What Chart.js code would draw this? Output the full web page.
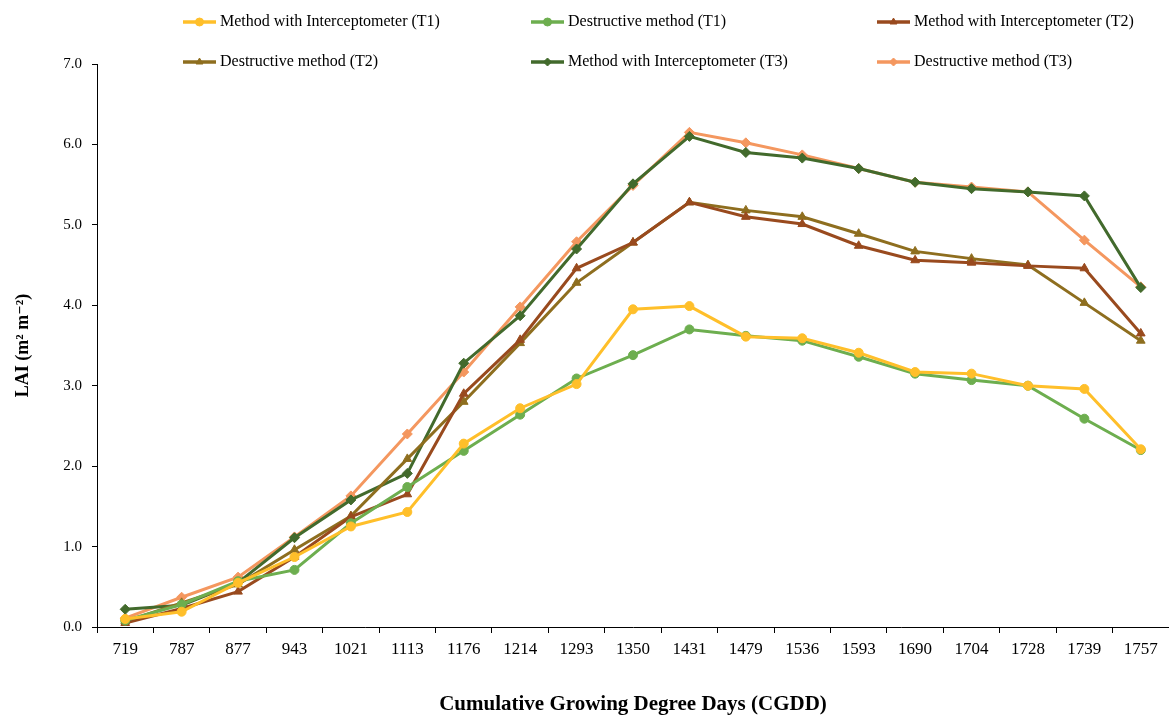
<!DOCTYPE html>
<html>
<head>
<meta charset="utf-8">
<script src="https://cdn.jsdelivr.net/npm/chart.js@4.4.0/dist/chart.umd.min.js"></script>
<style>
  html, body { margin: 0; padding: 0; background: #fff; }
  #wrap { width: 1169px; height: 716px; }
</style>
</head>
<body>
<div id="wrap"><canvas id="laiChart" width="1169" height="716"></canvas></div>
<script>
// --- data ---
const cgdd = ["719", "787", "877", "943", "1021", "1113", "1176", "1214", "1293", "1350",
              "1431", "1479", "1536", "1593", "1690", "1704", "1728", "1739", "1757"];

const interT1 = [0.10, 0.19, 0.55, 0.87, 1.25, 1.43, 2.28, 2.72, 3.02, 3.95, 3.99, 3.61, 3.59, 3.41, 3.17, 3.15, 3.00, 2.96, 2.21];
const destT1  = [0.08, 0.28, 0.57, 0.71, 1.29, 1.74, 2.19, 2.64, 3.09, 3.38, 3.70, 3.62, 3.56, 3.36, 3.15, 3.07, 3.00, 2.59, 2.20];
const interT2 = [0.05, 0.23, 0.44, 0.87, 1.37, 1.65, 2.90, 3.57, 4.46, 4.78, 5.28, 5.10, 5.01, 4.74, 4.56, 4.53, 4.49, 4.46, 3.65];
const destT2  = [0.07, 0.30, 0.53, 0.96, 1.38, 2.09, 2.80, 3.53, 4.28, 4.78, 5.28, 5.18, 5.10, 4.89, 4.67, 4.58, 4.50, 4.03, 3.56];
const interT3 = [0.22, 0.27, 0.55, 1.11, 1.58, 1.91, 3.28, 3.87, 4.70, 5.51, 6.10, 5.90, 5.83, 5.70, 5.53, 5.45, 5.41, 5.36, 4.22];
const destT3  = [0.11, 0.37, 0.62, 1.12, 1.63, 2.40, 3.17, 3.98, 4.79, 5.49, 6.15, 6.02, 5.87, 5.70, 5.53, 5.47, 5.41, 4.81, 4.23];

const yTicks = [0, 1, 2, 3, 4, 5, 6, 7];

const seriesNames = [
  "Method with Interceptometer (T1)", "Destructive method (T1)", "Method with Interceptometer (T2)",
  "Destructive method (T2)", "Method with Interceptometer (T3)", "Destructive method (T3)"
];
const seriesColors = ["#FFBF2A", "#6DAE4F", "#994A1E", "#8E6E1F", "#426A2C", "#F4975F"];
const seriesMarkers = ["circle", "circle", "triangle", "triangle", "rectRot", "rectRot"];
const seriesData = [interT1, destT1, interT2, destT2, interT3, destT3];

const serif = "'Liberation Serif', 'DejaVu Serif', serif";

const datasets = seriesData.map((d, i) => ({
  label: seriesNames[i],
  data: d,
  borderColor: seriesColors[i],
  backgroundColor: seriesColors[i],
  borderWidth: 3,
  pointStyle: seriesMarkers[i],
  pointRadius: seriesMarkers[i] === "circle" ? 4.5 : 5,
  pointBorderWidth: 1,
  tension: 0
}));

// legend laid out on a fixed grid, like the original figure
const gridLegend = {
  id: "gridLegend",
  afterDraw(chart) {
    const ctx = chart.ctx;
    const cols = [183, 531, 877];
    const rows = [22, 62];
    ctx.save();
    chart.data.datasets.forEach((ds, i) => {
      const x = cols[i % 3];
      const y = rows[Math.floor(i / 3)];
      ctx.strokeStyle = ds.borderColor;
      ctx.lineWidth = 3.5;
      ctx.beginPath();
      ctx.moveTo(x, y);
      ctx.lineTo(x + 33, y);
      ctx.stroke();
      ctx.fillStyle = ds.backgroundColor;
      ctx.strokeStyle = ds.borderColor;
      ctx.lineWidth = 1;
      Chart.helpers.drawPoint(ctx, { pointStyle: ds.pointStyle, radius: 4, borderWidth: 1 }, x + 16.5, y);
      ctx.fillStyle = "#000";
      ctx.font = "16px " + serif;
      ctx.textBaseline = "middle";
      ctx.textAlign = "left";
      ctx.fillText(ds.label, x + 37, y);
    });
    ctx.restore();
  }
};

new Chart(document.getElementById("laiChart"), {
  type: "line",
  data: { labels: cgdd, datasets: datasets },
  plugins: [gridLegend],
  options: {
    responsive: false,
    animation: false,
    layout: { autoPadding: false, padding: { top: 64, left: 0, right: -3, bottom: 0 } },
    plugins: { legend: { display: false }, tooltip: { enabled: false } },
    scales: {
      x: {
        offset: true,
        grid: { drawOnChartArea: false, offset: true, tickLength: 6, color: "#000" },
        border: { color: "#000", width: 1 },
        ticks: { color: "#000", font: { family: serif, size: 17 }, padding: 6, maxRotation: 0, autoSkip: false },
        title: {
          display: true,
          text: "Cumulative Growing Degree Days (CGDD)",
          color: "#000",
          font: { family: serif, size: 21, weight: "bold", lineHeight: 1 },
          padding: { top: 0, bottom: 1 }
        },
        afterFit: s => { s.height = 89; }
      },
      y: {
        min: 0,
        max: 7,
        afterBuildTicks: s => { s.ticks = yTicks.map(v => ({ value: v })); },
        grid: { drawOnChartArea: false, tickLength: 5, color: "#000" },
        border: { color: "#000", width: 1 },
        ticks: { color: "#000", font: { family: serif, size: 15 }, padding: 10, callback: v => v.toFixed(1) },
        title: {
          display: true,
          text: "LAI (m² m⁻²)",
          color: "#000",
          font: { family: serif, size: 18, weight: "bold", lineHeight: 1 },
          padding: { top: 14, bottom: 0 }
        },
        afterFit: s => { s.width = 97; }
      }
    }
  }
});
</script>
</body>
</html>
